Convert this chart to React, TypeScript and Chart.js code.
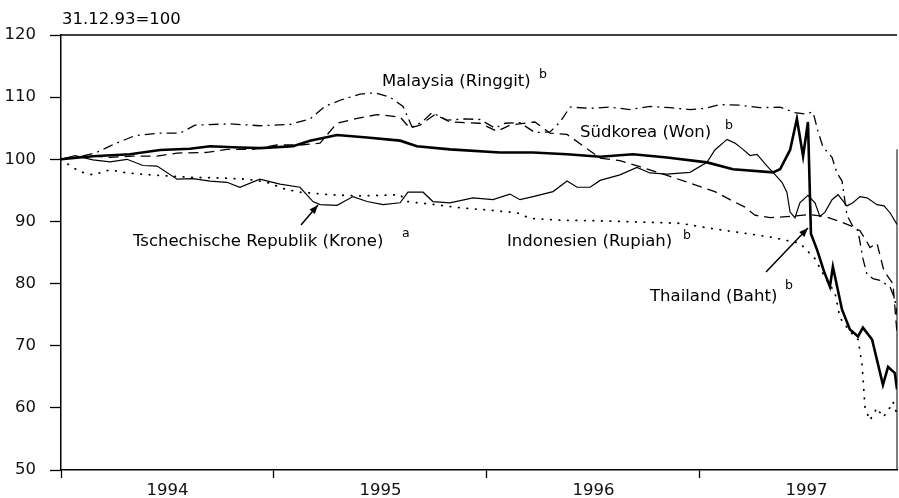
import React, { useEffect, useRef } from "react";
import { Chart, registerables } from "chart.js";

Chart.register(...registerables);

// ---- Data (index, 31.12.93 = 100); x in decimal years ----
const thaiT = [1994.0, 1994.15, 1994.324, 1994.465, 1994.606, 1994.7, 1994.84, 1994.934, 1995.089, 1995.169, 1995.296, 1995.437, 1995.592, 1995.671, 1995.826, 1996.061, 1996.216, 1996.376, 1996.531, 1996.685, 1996.845, 1997.033, 1997.155, 1997.343, 1997.376, 1997.423, 1997.455, 1997.484, 1997.507, 1997.521, 1997.549, 1997.582, 1997.61, 1997.624, 1997.667, 1997.704, 1997.742, 1997.765, 1997.808, 1997.859, 1997.883, 1997.915, 1997.925];
const thaiV = [100.0, 100.5, 100.8, 101.5, 101.7, 102.1, 101.9, 101.8, 102.1, 103.0, 103.9, 103.5, 103.0, 102.1, 101.6, 101.1, 101.1, 100.8, 100.4, 100.8, 100.3, 99.5, 98.4, 97.9, 98.4, 101.5, 106.5, 100.5, 106.0, 88.0, 85.5, 82.0, 79.5, 82.7, 75.8, 72.6, 71.5, 72.9, 71.0, 63.7, 66.6, 65.6, 63.0];

const czT = [1994.0, 1994.066, 1994.15, 1994.23, 1994.31, 1994.385, 1994.451, 1994.545, 1994.62, 1994.7, 1994.779, 1994.84, 1994.934, 1995.028, 1995.122, 1995.183, 1995.216, 1995.296, 1995.371, 1995.437, 1995.512, 1995.592, 1995.629, 1995.7, 1995.746, 1995.826, 1995.934, 1996.028, 1996.108, 1996.155, 1996.216, 1996.31, 1996.376, 1996.423, 1996.484, 1996.531, 1996.624, 1996.704, 1996.765, 1996.845, 1996.953, 1997.033, 1997.07, 1997.127, 1997.164, 1997.202, 1997.235, 1997.268, 1997.315, 1997.343, 1997.385, 1997.408, 1997.423, 1997.446, 1997.469, 1997.507, 1997.54, 1997.563, 1997.587, 1997.62, 1997.648, 1997.69, 1997.718, 1997.751, 1997.784, 1997.831, 1997.864, 1997.892, 1997.925];
const czV = [100.0, 100.6, 99.9, 99.6, 100.0, 99.0, 98.9, 96.8, 96.9, 96.5, 96.3, 95.5, 96.8, 96.0, 95.5, 93.2, 92.7, 92.6, 94.0, 93.2, 92.7, 93.0, 94.7, 94.7, 93.2, 93.0, 93.8, 93.5, 94.4, 93.5, 94.0, 94.8, 96.5, 95.5, 95.5, 96.6, 97.5, 98.7, 97.8, 97.6, 97.9, 99.5, 101.5, 103.2, 102.6, 101.6, 100.6, 100.8, 98.9, 97.9, 96.3, 94.7, 91.5, 90.6, 93.0, 94.2, 93.0, 90.8, 91.5, 93.5, 94.3, 92.5, 93.0, 94.0, 93.8, 92.7, 92.5, 91.4, 89.5];

const krT = [1994.0, 1994.042, 1994.136, 1994.23, 1994.338, 1994.451, 1994.545, 1994.685, 1994.779, 1994.901, 1995.014, 1995.122, 1995.216, 1995.296, 1995.38, 1995.484, 1995.592, 1995.638, 1995.685, 1995.756, 1995.826, 1995.967, 1996.047, 1996.108, 1996.225, 1996.296, 1996.376, 1996.437, 1996.531, 1996.624, 1996.718, 1996.812, 1996.967, 1997.07, 1997.141, 1997.211, 1997.258, 1997.329, 1997.423, 1997.516, 1997.587, 1997.657, 1997.714, 1997.751, 1997.779, 1997.798, 1997.831, 1997.864, 1997.906, 1997.925];
const krV = [100.0, 100.3, 100.6, 100.3, 100.5, 100.5, 101.0, 101.1, 101.6, 101.6, 102.3, 102.3, 102.6, 105.8, 106.5, 107.2, 106.8, 105.0, 105.5, 107.2, 106.0, 105.8, 104.5, 105.5, 106.0, 104.2, 104.0, 102.5, 100.2, 99.8, 98.8, 97.8, 96.0, 94.8, 93.5, 92.3, 91.0, 90.6, 90.8, 91.1, 90.8, 90.0, 89.2, 88.5, 87.0, 85.8, 86.5, 82.0, 80.0, 72.0];

const myT = [1994.0, 1994.066, 1994.16, 1994.254, 1994.347, 1994.465, 1994.559, 1994.629, 1994.793, 1994.934, 1995.075, 1995.169, 1995.239, 1995.31, 1995.404, 1995.474, 1995.545, 1995.606, 1995.648, 1995.695, 1995.742, 1995.812, 1995.897, 1995.967, 1996.038, 1996.085, 1996.155, 1996.225, 1996.296, 1996.343, 1996.39, 1996.484, 1996.577, 1996.671, 1996.765, 1996.859, 1996.953, 1997.023, 1997.094, 1997.188, 1997.282, 1997.376, 1997.446, 1997.493, 1997.531, 1997.554, 1997.577, 1997.62, 1997.643, 1997.667, 1997.69, 1997.718, 1997.742, 1997.765, 1997.784, 1997.812, 1997.845, 1997.892, 1997.915, 1997.925];
const myV = [100.0, 100.3, 101.0, 102.5, 103.8, 104.2, 104.2, 105.5, 105.7, 105.4, 105.6, 106.5, 108.5, 109.5, 110.5, 110.7, 110.0, 108.5, 105.2, 106.0, 107.5, 106.3, 106.5, 106.4, 105.0, 105.8, 105.9, 104.3, 104.4, 106.0, 108.4, 108.2, 108.4, 108.0, 108.5, 108.3, 108.0, 108.2, 108.8, 108.7, 108.3, 108.4, 107.5, 107.3, 107.6, 104.5, 102.0, 100.3, 97.8, 96.5, 91.0, 89.2, 88.5, 84.0, 81.5, 80.8, 80.5, 79.5, 77.5, 75.0];

const idT = [1994.0, 1994.042, 1994.089, 1994.15, 1994.23, 1994.31, 1994.418, 1994.512, 1994.606, 1994.746, 1994.873, 1994.967, 1995.052, 1995.122, 1995.263, 1995.404, 1995.592, 1995.624, 1995.732, 1995.873, 1996.014, 1996.141, 1996.202, 1996.343, 1996.531, 1996.718, 1996.906, 1997.047, 1997.188, 1997.329, 1997.469, 1997.54, 1997.587, 1997.634, 1997.657, 1997.704, 1997.742, 1997.761, 1997.775, 1997.798, 1997.831, 1997.859, 1997.883, 1997.906, 1997.925];
const idV = [100.0, 99.0, 98.0, 97.5, 98.3, 97.8, 97.5, 97.3, 97.1, 97.0, 96.8, 96.3, 95.2, 94.7, 94.3, 94.1, 94.3, 93.2, 92.8, 92.2, 91.8, 91.4, 90.5, 90.2, 90.1, 89.9, 89.7, 88.9, 88.2, 87.5, 86.5, 84.0, 81.0, 78.5, 74.5, 72.3, 71.0, 67.0, 60.0, 58.0, 60.0, 58.5, 59.5, 61.0, 59.0];

const yearTicks = [1994, 1994.5, 1995, 1995.5, 1996, 1996.5, 1997, 1997.5];
const xMin = 1994;
const xMax = 1997.925;
const yTicks = [50, 60, 70, 80, 90, 100, 110, 120];
const baseLabel = "31.12.93=100";
const seriesNames = [
  "Thailand (Baht)",
  "Tschechische Republik (Krone)",
  "Südkorea (Won)",
  "Malaysia (Ringgit)",
  "Indonesien (Rupiah)",
];
const seriesNotes = ["b", "a", "b", "b", "b"];

const FONT = '"DejaVu Sans", sans-serif';

function pts(t: number[], v: number[]) {
  return t.map((x, i) => ({ x, y: v[i] }));
}

export default function App() {
  const ref = useRef<HTMLCanvasElement | null>(null);

  useEffect(() => {
    const canvas = ref.current;
    if (!canvas) return;

    // annotation layout (pixels): [textX, baseline, supX, supBaseline]
    const labelPos: Record<string, number[]> = {
      "Thailand (Baht)": [650, 301, 785, 289],
      "Tschechische Republik (Krone)": [133, 246, 402, 237],
      "Südkorea (Won)": [580, 137, 725, 129],
      "Malaysia (Ringgit)": [382, 86, 539, 78],
      "Indonesien (Rupiah)": [507, 246, 683, 239],
    };
    const arrows = [
      [301, 225, 318, 205],
      [766, 272, 808, 228],
    ];

    const annot = {
      id: "annot",
      afterDraw(chart: any) {
        const ctx = chart.ctx;
        const a = chart.chartArea;
        const ys = chart.scales.y;
        ctx.save();
        ctx.strokeStyle = "#000";
        ctx.fillStyle = "#000";
        // top frame line and right frame line
        ctx.lineWidth = 1.5;
        ctx.beginPath();
        ctx.moveTo(a.left, a.top);
        ctx.lineTo(a.right, a.top);
        ctx.stroke();
        ctx.lineWidth = 1;
        ctx.beginPath();
        ctx.moveTo(a.right, ys.getPixelForValue(101.6));
        ctx.lineTo(a.right, a.bottom);
        ctx.stroke();

        // unit label
        ctx.font = `16.5px ${FONT}`;
        ctx.textBaseline = "alphabetic";
        ctx.textAlign = "left";
        ctx.fillText(baseLabel, a.left + 1, a.top - 11);

        seriesNames.forEach((name, i) => {
          const p = labelPos[name];
          ctx.font = `16.5px ${FONT}`;
          ctx.fillText(name, p[0], p[1]);
          ctx.font = `12.5px ${FONT}`;
          ctx.fillText(seriesNotes[i], p[2], p[3]);
        });

        // arrows
        arrows.forEach(([x0, y0, x1, y1]) => {
          ctx.lineWidth = 1.5;
          ctx.beginPath();
          ctx.moveTo(x0, y0);
          ctx.lineTo(x1, y1);
          ctx.stroke();
          const ang = Math.atan2(y1 - y0, x1 - x0);
          const L = 9, W = 3.5;
          ctx.beginPath();
          ctx.moveTo(x1, y1);
          ctx.lineTo(
            x1 - L * Math.cos(ang) + W * Math.sin(ang),
            y1 - L * Math.sin(ang) - W * Math.cos(ang)
          );
          ctx.lineTo(
            x1 - L * Math.cos(ang) - W * Math.sin(ang),
            y1 - L * Math.sin(ang) + W * Math.cos(ang)
          );
          ctx.closePath();
          ctx.fill();
        });
        ctx.restore();
      },
    };

    const common = { pointRadius: 0, pointHoverRadius: 0, tension: 0, fill: false };

    const chart = new Chart(canvas, {
      type: "line",
      data: {
        datasets: [
          { ...common, label: seriesNames[0], data: pts(thaiT, thaiV), borderColor: "#000", borderWidth: 2.6, order: 0 },
          { ...common, label: seriesNames[1], data: pts(czT, czV), borderColor: "#000", borderWidth: 1.2, order: 1 },
          { ...common, label: seriesNames[2], data: pts(krT, krV), borderColor: "#000", borderWidth: 1.3, borderDash: [10, 6], order: 2 },
          { ...common, label: seriesNames[3], data: pts(myT, myV), borderColor: "#000", borderWidth: 1.3, borderDash: [10, 5, 2, 5], order: 3 },
          { ...common, label: seriesNames[4], data: pts(idT, idV), borderColor: "#000", borderWidth: 1.8, borderDash: [0.5, 8], borderCapStyle: "round", order: 4 },
        ] as any,
      },
      options: {
        responsive: false,
        maintainAspectRatio: false,
        animation: false,
        devicePixelRatio: 1,
        layout: { padding: { top: 35, right: 2, left: 0, bottom: 0 } },
        plugins: {
          legend: { display: false },
          tooltip: { enabled: false },
          title: { display: false },
        },
        events: [],
        scales: {
          x: {
            type: "linear",
            min: xMin,
            max: xMax,
            afterBuildTicks: (scale: any) => {
              scale.ticks = yearTicks.map((v) => ({ value: v }));
            },
            afterFit: (scale: any) => {
              scale.height = 28;
            },
            ticks: {
              autoSkip: false,
              maxRotation: 0,
              minRotation: 0,
              padding: 3,
              color: "#111",
              font: { family: FONT, size: 16.5 },
              callback: (v: any) => (Number(v) % 1 === 0.5 ? String(Math.floor(Number(v))) : ""),
            },
            grid: {
              display: true,
              drawOnChartArea: false,
              tickLength: 8,
              tickWidth: 1.3,
              tickColor: (c: any) =>
                c.tick && Number(c.tick.value) % 1 === 0 ? "#000" : "rgba(0,0,0,0)",
            },
            border: { display: true, color: "#000", width: 1.5 },
          },
          y: {
            type: "linear",
            min: 50,
            max: 120,
            afterBuildTicks: (scale: any) => {
              scale.ticks = yTicks.map((v) => ({ value: v }));
            },
            afterFit: (scale: any) => {
              scale.width = 61;
            },
            ticks: {
              padding: 14,
              color: "#111",
              font: { family: FONT, size: 16.5 },
            },
            grid: {
              display: true,
              drawOnChartArea: false,
              tickLength: 11,
              tickWidth: 1.3,
              tickColor: "#000",
            },
            border: { display: true, color: "#000", width: 1.5 },
          },
        },
      } as any,
      plugins: [annot],
    });

    return () => chart.destroy();
  }, []);

  return (
    <div
      style={{
        position: "fixed",
        left: 0,
        top: 0,
        width: 899,
        height: 498,
        background: "#fff",
      }}
    >
      <canvas ref={ref} width={899} height={498} />
    </div>
  );
}
